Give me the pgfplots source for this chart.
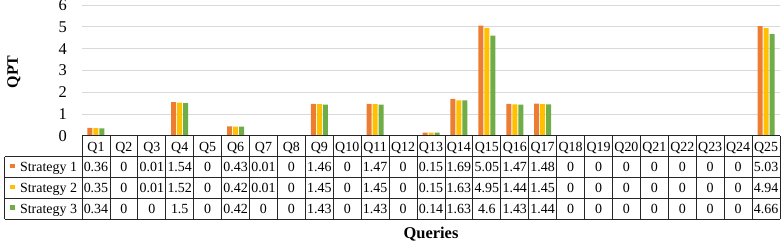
\documentclass[border=0pt]{standalone}
\usepackage{fontspec}
\setmainfont{Liberation Serif}
\usepackage{pgfplots}
\usepackage{pgfplotstable}
\pgfplotsset{compat=1.18}
\definecolor{sone}{HTML}{ED7D31}
\definecolor{stwo}{HTML}{FFC000}
\definecolor{sthree}{HTML}{70AD47}
\definecolor{gridc}{HTML}{D9D9D9}
\definecolor{tabline}{HTML}{262626}
\newlength\colw \setlength\colw{27.92bp}
\newcommand{\tcrow}[1]{\vbox to 20.9bp{\vskip 15bp\hbox to \colw{\hss\smash{#1}\hss}\vss}}
\newcommand{\tc}[4]{\vbox{\offinterlineskip\tcrow{#1}\tcrow{#2}\tcrow{#3}\tcrow{#4}}}

\pgfplotstableread{
x  s1   s2   s3
0  0.36 0.35 0.34
1  0    0    0
2  0.01 0.01 0
3  1.54 1.52 1.5
4  0    0    0
5  0.43 0.42 0.42
6  0.01 0.01 0
7  0    0    0
8  1.46 1.45 1.43
9  0    0    0
10 1.47 1.45 1.43
11 0    0    0
12 0.15 0.15 0.14
13 1.69 1.63 1.63
14 5.05 4.95 4.6
15 1.47 1.44 1.43
16 1.48 1.45 1.44
17 0    0    0
18 0    0    0
19 0    0    0
20 0    0    0
21 0    0    0
22 0    0    0
23 0    0    0
24 5.03 4.94 4.66
}\qpt

\begin{document}
\begin{tikzpicture}
\begin{axis}[
  at={(82bp,107.2bp)}, anchor=south west,
  width=698bp, height=130.8bp, scale only axis,
  xmin=-0.5, xmax=24.5, ymin=0, ymax=6,
  ytick={0,1,2,3,4,5,6},
  ymajorgrids, grid style={gridc, line width=0.8bp},
  axis line style={draw=none},
  major tick length=0pt,
  ybar=1bp, bar width=5bp,
  yticklabel style={font=\rmfamily\fontsize{16.5}{16.5}\selectfont, inner sep=0pt, anchor=east, xshift=-15bp},
  /pgf/number format/assume math mode=true,
  xtick={0,...,24},
  xticklabel style={inner sep=0pt, anchor=north, font=\rmfamily\fontsize{14}{14}\selectfont},
  xticklabels={
   {\tc{Q1}{0.36}{0.35}{0.34}},
   {\tc{Q2}{0}{0}{0}},
   {\tc{Q3}{0.01}{0.01}{0}},
   {\tc{Q4}{1.54}{1.52}{1.5}},
   {\tc{Q5}{0}{0}{0}},
   {\tc{Q6}{0.43}{0.42}{0.42}},
   {\tc{Q7}{0.01}{0.01}{0}},
   {\tc{Q8}{0}{0}{0}},
   {\tc{Q9}{1.46}{1.45}{1.43}},
   {\tc{Q10}{0}{0}{0}},
   {\tc{Q11}{1.47}{1.45}{1.43}},
   {\tc{Q12}{0}{0}{0}},
   {\tc{Q13}{0.15}{0.15}{0.14}},
   {\tc{Q14}{1.69}{1.63}{1.63}},
   {\tc{Q15}{5.05}{4.95}{4.6}},
   {\tc{Q16}{1.47}{1.44}{1.43}},
   {\tc{Q17}{1.48}{1.45}{1.44}},
   {\tc{Q18}{0}{0}{0}},
   {\tc{Q19}{0}{0}{0}},
   {\tc{Q20}{0}{0}{0}},
   {\tc{Q21}{0}{0}{0}},
   {\tc{Q22}{0}{0}{0}},
   {\tc{Q23}{0}{0}{0}},
   {\tc{Q24}{0}{0}{0}},
   {\tc{Q25}{5.03}{4.94}{4.66}}
  },
  legend style={at={(0,0)}, anchor=north west, xshift=-72bp, yshift=-20.9bp,
    draw=none, fill=none, inner sep=0pt, outer sep=0pt, row sep=0pt, column sep=5.5bp,
    font=\rmfamily\fontsize{14}{14}\selectfont,
    nodes={inner sep=0pt, outer sep=0pt, text height=15bp, text depth=5.9bp, font=\rmfamily\fontsize{14}{14}\selectfont}},
  legend cell align=left,
  legend image code/.code={\fill[#1] (0bp,-1.0bp) rectangle (4.6bp,3.5bp);},
]
\addplot[fill=sone, draw=none] table[x=x, y=s1] {\qpt};
\addplot[fill=stwo, draw=none] table[x=x, y=s2] {\qpt};
\addplot[fill=sthree, draw=none] table[x=x, y=s3] {\qpt};
\legend{Strategy 1, Strategy 2, Strategy 3}
\end{axis}
% table grid
\begin{scope}[tabline, line width=0.8bp]
\draw (82bp,107.2bp) -- (780bp,107.2bp);
\foreach \yy in {86.3,65.4,44.5,23.6} \draw (4.5bp,\yy bp) -- (780bp,\yy bp);
\draw (4.5bp,23.6bp) -- (4.5bp,86.3bp);
\foreach \k [evaluate=\k as \xx using 82+27.92*\k] in {0,...,25} \draw (\xx bp,23.6bp) -- (\xx bp,107.2bp);
\end{scope}
\node[font=\rmfamily\bfseries\fontsize{16.5}{16.5}\selectfont, anchor=base] at (431bp,4.5bp) {Queries};
\node[font=\rmfamily\bfseries\fontsize{16}{16}\selectfont, rotate=90, anchor=center] at (14bp,171bp) {QPT};
\pgfresetboundingbox
\useasboundingbox (0,0) rectangle (782bp,243bp);
\end{tikzpicture}
\end{document}
